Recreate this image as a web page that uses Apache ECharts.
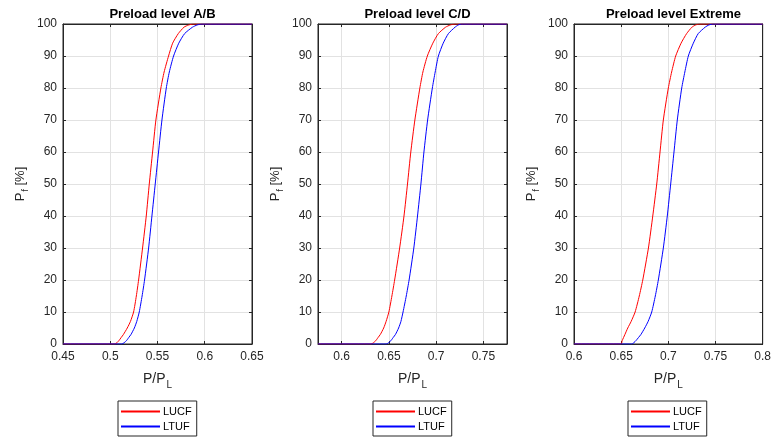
<!DOCTYPE html>
<html>
<head>
<meta charset="utf-8">
<script src="https://cdn.jsdelivr.net/npm/echarts@6/dist/echarts.min.js"></script>
<style>html,body{margin:0;padding:0;background:#fff;}#c{width:774px;height:437px;}</style>
</head>
<body>
<div id="c"></div>
<script>
// ---- data ----
const titles = ['Preload level A/B', 'Preload level C/D', 'Preload level Extreme'];
const xMins = [0.45, 0.575, 0.6];
const xMaxs = [0.65, 0.775, 0.8];
const seriesNames = ['LUCF', 'LTUF'];

// Pf [%] levels at which the curves were read
const pfLevels = [0, 0, 1, 2, 3, 5, 7, 10, 15, 20, 30, 40, 50, 60, 70, 80, 85, 90, 94, 97, 99, 99.7, 100, 100];

const ab_lucf_x = [0.45, 0.505, 0.509, 0.5115, 0.514, 0.518, 0.5213, 0.5247, 0.5276, 0.530, 0.5342, 0.5381, 0.5413, 0.5448, 0.5483, 0.5536, 0.557, 0.5617, 0.566, 0.572, 0.578, 0.583, 0.588, 0.65];
const ab_ltuf_x = [0.45, 0.5123, 0.517, 0.5195, 0.522, 0.5255, 0.528, 0.5307, 0.5337, 0.5363, 0.5406, 0.5441, 0.5476, 0.5511, 0.5547, 0.5593, 0.5625, 0.567, 0.5725, 0.5787, 0.587, 0.592, 0.597, 0.65];

const cd_lucf_x = [0.575, 0.6312, 0.636, 0.6385, 0.641, 0.6445, 0.647, 0.65, 0.6532, 0.6561, 0.6614, 0.666, 0.6697, 0.6732, 0.6775, 0.6828, 0.686, 0.6907, 0.6965, 0.7024, 0.71, 0.715, 0.72, 0.775];
const cd_ltuf_x = [0.575, 0.6472, 0.652, 0.6545, 0.657, 0.6603, 0.6627, 0.665, 0.6684, 0.6714, 0.6764, 0.6803, 0.6839, 0.6871, 0.691, 0.696, 0.699, 0.7024, 0.7075, 0.713, 0.72, 0.7235, 0.727, 0.775];

const ex_lucf_x = [0.6, 0.65, 0.651, 0.6525, 0.654, 0.657, 0.6605, 0.6648, 0.6692, 0.6729, 0.6789, 0.6835, 0.6877, 0.6912, 0.6947, 0.70, 0.7035, 0.7078, 0.7135, 0.7194, 0.725, 0.729, 0.733, 0.8];
const ex_ltuf_x = [0.6, 0.6613, 0.6655, 0.6683, 0.671, 0.675, 0.6785, 0.6824, 0.6862, 0.6894, 0.6947, 0.6989, 0.7025, 0.706, 0.7095, 0.7142, 0.7175, 0.7212, 0.7265, 0.7317, 0.739, 0.743, 0.7476, 0.8];

const plotData = [
  [ab_lucf_x, ab_ltuf_x],
  [cd_lucf_x, cd_ltuf_x],
  [ex_lucf_x, ex_ltuf_x]
];
const colors = ['#ff0000', '#0000ff'];

// ---- layout ----
const gridLefts = [63, 318, 574];
const gridWidth = 189;
const gridTop = 24, gridHeight = 320;
const legendLefts = [118, 373, 628];

const zip = (xs, ys) => xs.map((x, i) => [x, ys[i]]);
const axisCol = '#262626';
const font = 'Liberation Sans, Arial, Helvetica, sans-serif';

const grids = [], xAxes = [], yAxes = [], series = [], titleArr = [], legends = [];
for (let i = 0; i < 3; i++) {
  grids.push({left: gridLefts[i], top: gridTop, width: gridWidth, height: gridHeight,
    show: true, borderColor: axisCol, borderWidth: 1, backgroundColor: '#fff'});
  titleArr.push({text: titles[i], left: gridLefts[i] + gridWidth / 2, top: 3, textAlign: 'center',
    textStyle: {fontFamily: font, fontSize: 13, fontWeight: 'bold', color: '#000'}});
  xAxes.push({type: 'value', gridIndex: i, min: xMins[i], max: xMaxs[i], splitNumber: 4,
    name: 'P/P{s|L}', nameLocation: 'middle', nameGap: 24,
    nameTextStyle: {fontFamily: font, fontSize: 14, color: axisCol, rich: {s: {fontFamily: font, fontSize: 10, color: axisCol, padding: [12, 0, 0, 1]}}},
    axisLine: {show: true, onZero: false, lineStyle: {color: axisCol}},
    axisTick: {show: true, inside: true, length: 3, lineStyle: {color: axisCol}},
    axisLabel: {fontFamily: font, fontSize: 12, color: axisCol, margin: 7, showMinLabel: i !== 1, showMaxLabel: i !== 1},
    splitLine: {show: true, lineStyle: {color: '#e2e2e2', width: 1}}});
  yAxes.push({type: 'value', gridIndex: i, min: 0, max: 100, interval: 10,
    name: 'P{s|f} [%]', nameLocation: 'middle', nameGap: 33, nameRotate: 90,
    nameTextStyle: {fontFamily: font, fontSize: 13, color: axisCol, rich: {s: {fontFamily: font, fontSize: 9, color: axisCol, padding: [10, 0, 0, 1]}}},
    axisLine: {show: true, lineStyle: {color: axisCol}},
    axisTick: {show: true, inside: true, length: 3, lineStyle: {color: axisCol}},
    axisLabel: {fontFamily: font, fontSize: 12, color: axisCol, margin: 6},
    splitLine: {show: true, lineStyle: {color: '#e2e2e2', width: 1}}});
  for (let s = 0; s < 2; s++) {
    series.push({type: 'line', name: seriesNames[s], xAxisIndex: i, yAxisIndex: i,
      data: zip(plotData[i][s], pfLevels), symbol: 'none', showSymbol: false, smooth: 0.2,
      color: colors[s],
      lineStyle: {color: colors[s], width: 1}, itemStyle: {color: colors[s]}, z: 3});
  }
  legends.push({
    data: seriesNames.map((n, k) => ({name: n, icon: 'rect',
      itemStyle: {color: colors[k], borderWidth: 0, opacity: 1}})),
    orient: 'vertical', left: legendLefts[i], top: 401,
    borderColor: axisCol, borderWidth: 1, backgroundColor: '#fff', padding: [4, 5, 3, 3],
    itemWidth: 39, itemHeight: 2, itemGap: 2, selectedMode: false,
    textStyle: {fontFamily: font, fontSize: 11, color: '#000', lineHeight: 13, padding: [0, 0, 0, -2]}});
}
// top & right tick-only axes (MATLAB box)
for (let i = 0; i < 3; i++) {
  xAxes.push({type: 'value', gridIndex: i, min: xMins[i], max: xMaxs[i], splitNumber: 4, position: 'top',
    axisLine: {show: true, onZero: false, lineStyle: {color: axisCol}},
    axisTick: {show: true, inside: true, length: 3, lineStyle: {color: axisCol}},
    axisLabel: {show: false}, splitLine: {show: false}});
  yAxes.push({type: 'value', gridIndex: i, min: 0, max: 100, interval: 10, position: 'right',
    axisLine: {show: true, lineStyle: {color: axisCol}},
    axisTick: {show: true, inside: true, length: 3, lineStyle: {color: axisCol}},
    axisLabel: {show: false}, splitLine: {show: false}});
}

const chart = echarts.init(document.getElementById('c'), null, {renderer: 'canvas'});
chart.setOption({
  animation: false,
  backgroundColor: '#fff',
  title: titleArr,
  legend: legends,
  grid: grids,
  xAxis: xAxes,
  yAxis: yAxes,
  series: series
});
</script>
</body>
</html>
